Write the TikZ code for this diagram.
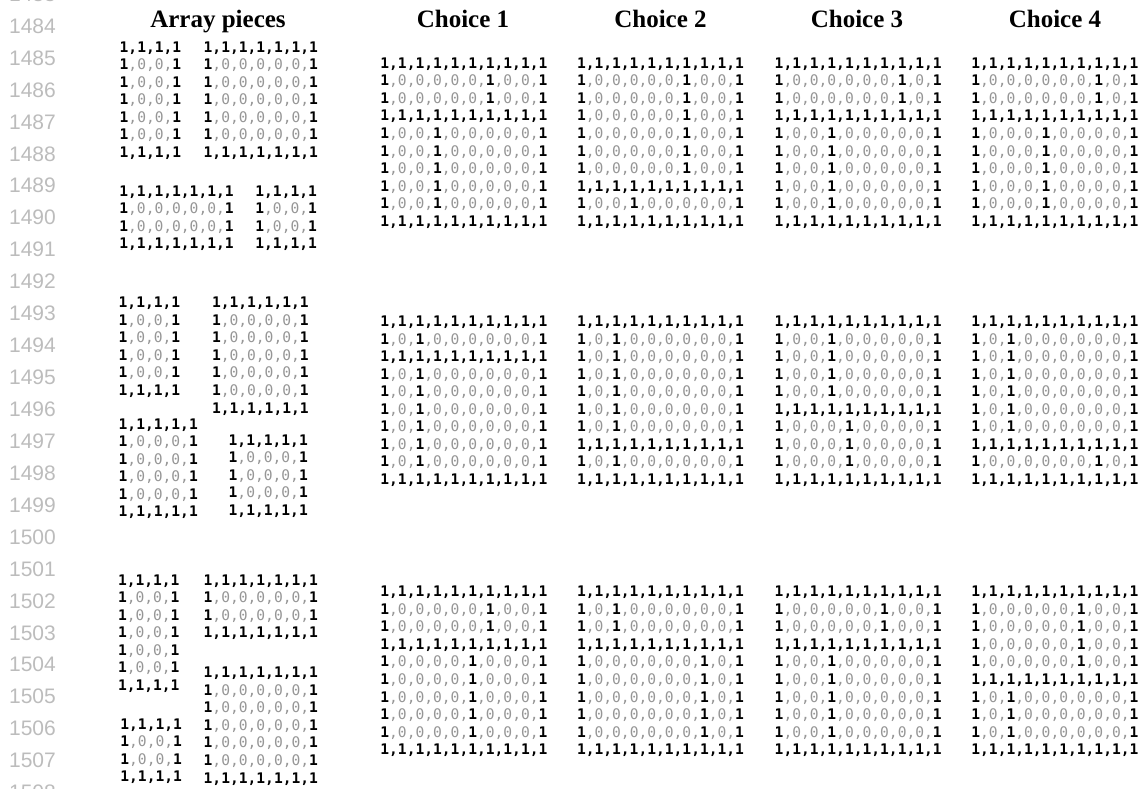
\documentclass[tikz,border=0pt]{standalone}
\usepackage{fontspec}
\setmainfont{Liberation Serif}
\setmonofont{DejaVu Sans Mono}
\newfontfamily\numfont{Liberation Sans}
\usetikzlibrary{positioning}

\definecolor{zerogray}{RGB}{150,150,150}
\definecolor{linegray}{RGB}{188,188,188}

% one row of a bit array: 1 bold black, 0 gray, commas between 1s bold
\makeatletter
\newcommand\bitrow[1]{\def\lastbit{x}\expandafter\bitrow@loop#1\@nil}
\def\bitrow@loop#1{%
  \ifx\@nil#1\else
    \if x\lastbit\else
      \ifnum\lastbit#1=11 {\bfseries,}\else{\color{zerogray},}\fi
    \fi
    \ifnum#1=1 {\bfseries1}\else{\color{zerogray}0}\fi
    \def\lastbit{#1}%
    \expandafter\bitrow@loop
  \fi}
\makeatother

% name, left x, first baseline y, rows
\newcommand\bitgrid[4]{%
  \foreach \rw [count=\i from 0] in {#4}
    \node[bits] (#1-\i) at (#2, #3+\i*17.55) {\bitrow{\rw}};%
}

\begin{document}
\begin{tikzpicture}[x=1pt, y=-1pt,
    bits/.style={anchor=base west, inner sep=0pt,
                 font=\ttfamily\fontsize{14.6}{17.5}\selectfont},
    hdr/.style={anchor=base, inner sep=0pt,
                font=\bfseries\fontsize{25}{30}\selectfont},
    lnum/.style={anchor=base east, inner sep=0pt, text=linegray,
                 font=\numfont\fontsize{21}{25}\selectfont}]
  \useasboundingbox (0,0) rectangle (1139,788);
  \clip (0,0) rectangle (1139,788);

  % line numbers
  \foreach \n [count=\k from 0] in {1483,...,1508}
    \node[lnum] (ln-\n) at (56, 1.4+\k*31.93) {\n};

  % headers
  \node[hdr] (hdr-pieces) at (218, 27) {Array pieces};
  \foreach \c/\x in {1/463, 2/660.5, 3/857, 4/1055}
    \node[hdr] (hdr-\c) at (\x, 27) {Choice \c};

  % first set
  \bitgrid{pa}{119.5}{52}{1111,1001,1001,1001,1001,1001,1111}
  \bitgrid{pb}{203.5}{52}{1111111,1000001,1000001,1000001,1000001,1000001,1111111}
  \bitgrid{pc}{119.2}{196}{1111111,1000001,1000001,1111111}
  \bitgrid{pd}{255.2}{196}{1111,1001,1001,1111}

  \bitgrid{ca1}{380.2}{68.3}{1111111111,1000001001,1000001001,1111111111,1001000001,1001000001,1001000001,1001000001,1001000001,1111111111}
  \bitgrid{ca2}{576.8}{68.3}{1111111111,1000001001,1000001001,1000001001,1000001001,1000001001,1000001001,1111111111,1001000001,1111111111}
  \bitgrid{ca3}{774.5}{68.3}{1111111111,1000000101,1000000101,1111111111,1001000001,1001000001,1001000001,1001000001,1001000001,1111111111}
  \bitgrid{ca4}{971.2}{68.3}{1111111111,1000000101,1000000101,1111111111,1000100001,1000100001,1000100001,1000100001,1000100001,1111111111}

  % second set
  \bitgrid{pe}{118.5}{307.7}{1111,1001,1001,1001,1001,1111}
  \bitgrid{pf}{211.8}{307.7}{111111,100001,100001,100001,100001,100001,111111}
  \bitgrid{pg}{118.5}{429}{11111,10001,10001,10001,10001,11111}
  \bitgrid{ph}{228.5}{445}{11111,10001,10001,10001,11111}

  \bitgrid{cb1}{380.2}{326.5}{1111111111,1010000001,1111111111,1010000001,1010000001,1010000001,1010000001,1010000001,1010000001,1111111111}
  \bitgrid{cb2}{576.8}{326.5}{1111111111,1010000001,1010000001,1010000001,1010000001,1010000001,1010000001,1111111111,1010000001,1111111111}
  \bitgrid{cb3}{774.5}{326.5}{1111111111,1001000001,1001000001,1001000001,1001000001,1111111111,1000100001,1000100001,1000100001,1111111111}
  \bitgrid{cb4}{971.2}{326.5}{1111111111,1010000001,1010000001,1010000001,1010000001,1010000001,1010000001,1111111111,1000000101,1111111111}

  % third set
  \bitgrid{pi}{117.8}{585}{1111,1001,1001,1001,1001,1001,1111}
  \bitgrid{pj}{203.5}{585}{1111111,1000001,1000001,1111111}
  \bitgrid{pk}{120.2}{729}{1111,1001,1001,1111}
  \bitgrid{pl}{203.5}{677.7}{1111111,1000001,1000001,1000001,1000001,1000001,1111111}

  \bitgrid{cc1}{380.2}{596.7}{1111111111,1000001001,1000001001,1111111111,1000010001,1000010001,1000010001,1000010001,1000010001,1111111111}
  \bitgrid{cc2}{576.8}{596.7}{1111111111,1010000001,1010000001,1111111111,1000000101,1000000101,1000000101,1000000101,1000000101,1111111111}
  \bitgrid{cc3}{774.5}{596.7}{1111111111,1000001001,1000001001,1111111111,1001000001,1001000001,1001000001,1001000001,1001000001,1111111111}
  \bitgrid{cc4}{971.2}{596.7}{1111111111,1000001001,1000001001,1000001001,1000001001,1111111111,1010000001,1010000001,1010000001,1111111111}
\end{tikzpicture}
\end{document}
